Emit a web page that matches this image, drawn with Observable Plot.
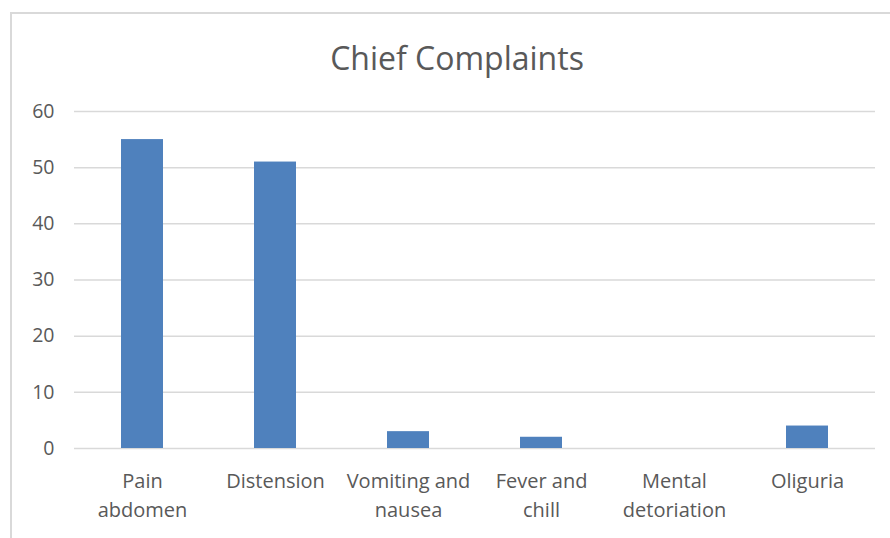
<!DOCTYPE html>
<html>
<head>
<meta charset="utf-8">
<script src="https://cdn.jsdelivr.net/npm/d3@7"></script>
<script src="https://cdn.jsdelivr.net/npm/@observablehq/plot@0.6"></script>
<style>
  html, body { margin: 0; padding: 0; background: #fff; overflow: hidden; }
  #wrap { position: relative; width: 890px; height: 538px; overflow: hidden; }
  #border { position: absolute; left: 10px; top: 12px; width: 900px; height: 600px; border: 2px solid #d9d9d9; box-sizing: border-box; }
  #chart { position: absolute; left: 0; top: 0; }
</style>
</head>
<body>
<div id="wrap"><div id="border"></div><div id="chart"></div></div>
<script>
const title = "Chief Complaints";
const categories = ["Pain abdomen", "Distension", "Vomiting and nausea", "Fever and chill", "Mental detoriation", "Oliguria"];
const tickLabels = ["Pain\nabdomen", "Distension", "Vomiting and\nnausea", "Fever and\nchill", "Mental\ndetoriation", "Oliguria"];
const values = [55, 51, 3, 2, 0, 4];
const yTicks = [0, 10, 20, 30, 40, 50, 60];

const data = categories.map((c, i) => ({category: c, value: values[i]}));
const labelOf = new Map(categories.map((c, i) => [c, tickLabels[i]]));

const font = "'Open Sans', sans-serif";
const chart = Plot.plot({
  width: 890,
  height: 538,
  marginLeft: 74,
  marginRight: 15,
  marginTop: 111,
  marginBottom: 90,
  style: {fontFamily: font, fontSize: "19px", color: "#595959", background: "transparent"},
  x: {domain: categories, paddingInner: 0.685, paddingOuter: 0.3425},
  y: {domain: [0, 60]},
  marks: [
    Plot.gridY(yTicks, {stroke: "#d9d9d9", strokeOpacity: 1, strokeWidth: 1.5}),
    Plot.barY(data, {x: "category", y: "value", fill: "#4f81bd"}),
    Plot.axisY(yTicks, {tickSize: 0, tickPadding: 20, fill: "#595959", fontSize: 19.5, label: null}),
    Plot.axisX({tickSize: 0, tickPadding: 19, fill: "#595959", fontSize: 20, lineHeight: 1.45, tickFormat: d => labelOf.get(d), label: null}),
    Plot.text([title], {frameAnchor: "top", dx: -18, dy: -64, fontSize: 32, fill: "#595959", fontFamily: font})
  ]
});
document.getElementById("chart").appendChild(chart);
</script>
</body>
</html>
